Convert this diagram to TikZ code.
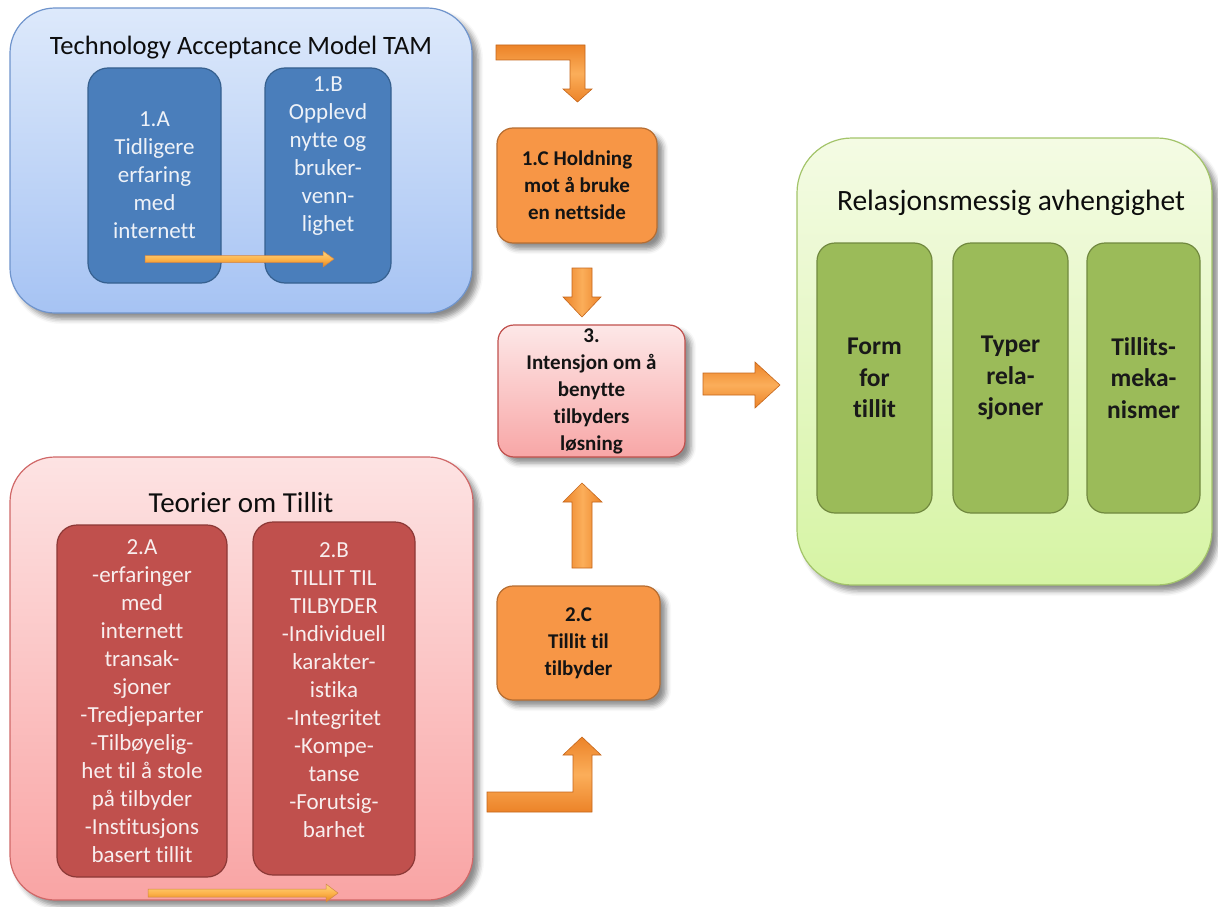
\documentclass[tikz,border=0pt]{standalone}
\usepackage{fontspec}
\setmainfont{Carlito}[Ligatures={NoCommon}]
\usetikzlibrary{shadows.blur}

% palette
\definecolor{tamTop}{HTML}{DDE9FB}
\definecolor{tamBot}{HTML}{A6C3F3}
\definecolor{tamEdge}{HTML}{6F94CC}
\definecolor{blueFill}{HTML}{4A7EBB}
\definecolor{blueEdge}{HTML}{36608F}
\definecolor{blueText}{HTML}{EEF2F8}
\definecolor{teoTop}{HTML}{FDE3E3}
\definecolor{teoBot}{HTML}{F9A4A4}
\definecolor{teoEdge}{HTML}{D06868}
\definecolor{redFill}{HTML}{C0504D}
\definecolor{redEdge}{HTML}{8C3836}
\definecolor{redText}{HTML}{F8EEEE}
\definecolor{orFill}{HTML}{F79646}
\definecolor{orEdge}{HTML}{B66D31}
\definecolor{intTop}{HTML}{FDE8E8}
\definecolor{intBot}{HTML}{F8A6A6}
\definecolor{intEdge}{HTML}{C0504D}
\definecolor{relTop}{HTML}{F4FBE4}
\definecolor{relBot}{HTML}{D6F4A4}
\definecolor{relEdge}{HTML}{A3C46A}
\definecolor{greenFill}{HTML}{9BBB59}
\definecolor{greenEdge}{HTML}{71893F}
\definecolor{arDark}{HTML}{EC8328}
\definecolor{arLight}{HTML}{FBAE5A}
\definecolor{arEdge}{HTML}{C4661C}
\definecolor{thinTop}{HTML}{FCD67E}
\definecolor{thinBot}{HTML}{E3861A}

\begin{document}
\begin{tikzpicture}[x=1pt,y=-1pt,
  every node/.style={inner sep=0pt, outer sep=0pt},
  softshadow/.style={blur shadow={shadow xshift=6pt, shadow yshift=-6pt,
      shadow blur radius=5pt, shadow opacity=45}},
  outerbox/.style={rectangle, rounded corners=45pt, line width=1.2pt, softshadow},
  innerbox/.style={rectangle, rounded corners=20pt, line width=1.2pt, align=center},
  smallbox/.style={rectangle, rounded corners=16pt, line width=1.2pt, align=center,
      fill=orFill, draw=orEdge, softshadow},
  title/.style={anchor=base, text=black!95},
  bluetext/.style={align=center, text=blueText, font=\fontsize{23}{28}\selectfont},
  redtext/.style={align=center, text=redText, font=\fontsize{23}{28}\selectfont},
  darktext/.style={text=black!92, font=\bfseries\fontsize{21}{27}\selectfont},
  greentext/.style={text=black!90, font=\bfseries\fontsize{25.5}{31.5}\selectfont},
  vblock/.style={draw=arEdge, line width=0.6pt, left color=arDark, right color=arDark, middle color=arLight},
  hblock/.style={draw=arEdge, line width=0.6pt, top color=arDark, bottom color=arDark, middle color=arLight},
  thinarrow/.style={draw=arEdge!80, line width=0.5pt, top color=thinTop, bottom color=thinBot, middle color=thinTop!60!orange}
]
\useasboundingbox (0,0) rectangle (1218,907);

% ---------- Technology Acceptance Model ----------
\node[outerbox, top color=tamTop, bottom color=tamBot, draw=tamEdge,
      minimum width=462pt, minimum height=305pt] (tam) at (241,160.5) {};
\node[title, font=\fontsize{26.5}{30}\selectfont] (tamtitle) at (241,55) {Technology Acceptance Model TAM};
\node[innerbox, fill=blueFill, draw=blueEdge, minimum width=133pt, minimum height=215pt,
      bluetext] (a1) at (154.5,175.5) {1.A\\Tidligere\\erfaring\\med\\internett};
\node[innerbox, fill=blueFill, draw=blueEdge, minimum width=126pt, minimum height=215pt] (b1) at (328,175.5) {};
\node[bluetext] (b1t) at (328,156.5) {1.B\\Opplevd\\nytte og\\bruker-\\venn-\\lighet};

% ---------- Teorier om Tillit ----------
\node[outerbox, top color=teoTop, bottom color=teoBot, draw=teoEdge,
      minimum width=463pt, minimum height=443pt] (teo) at (241.5,678.5) {};
\node[title, font=\fontsize{29}{33}\selectfont] (teotitle) at (241,512) {Teorier om Tillit};
\node[innerbox, fill=redFill, draw=redEdge, minimum width=170pt, minimum height=352pt,
      redtext] (a2) at (142,701)
  {2.A\\-erfaringer\\med\\internett\\transak-\\sjoner\\-Tredjeparter\\-Tilbøyelig-\\het til å stole\\på tilbyder\\-Institusjons\\basert tillit};
\node[innerbox, fill=redFill, draw=redEdge, minimum width=162pt, minimum height=353pt] (b2) at (334,698.5) {};
\node[redtext] (b2t) at (334,690)
  {2.B\\TILLIT TIL\\TILBYDER\\-Individuell\\karakter-\\istika\\-Integritet\\-Kompe-\\tanse\\-Forutsig-\\barhet};

% ---------- middle column ----------
\node[smallbox, darktext, minimum width=160pt, minimum height=115pt] (c1) at (577,185.5)
  {1.C Holdning\\mot å bruke\\en nettside};
\node[smallbox, darktext, top color=intTop, bottom color=intBot, draw=intEdge,
      minimum width=187pt, minimum height=132pt] (int) at (591.5,391)
  {3.\\Intensjon om å\\benytte\\tilbyders\\løsning};
\node[smallbox, darktext, minimum width=163pt, minimum height=114pt] (c2) at (578.5,643)
  {2.C\\Tillit til\\tilbyder};

% ---------- Relasjonsmessig avhengighet ----------
\node[outerbox, rounded corners=55pt, top color=relTop, bottom color=relBot, draw=relEdge,
      minimum width=415pt, minimum height=447pt] (rel) at (1004.5,361.5) {};
\node[title, font=\fontsize{29.5}{33}\selectfont] (reltitle) at (1011,210) {Relasjonsmessig avhengighet};
\node[innerbox, rounded corners=18pt, fill=greenFill, draw=greenEdge, minimum width=115pt,
      minimum height=270pt, greentext] (g1) at (874.5,378) {Form\\for\\tillit};
\node[innerbox, rounded corners=18pt, fill=greenFill, draw=greenEdge, minimum width=115pt,
      minimum height=270pt, greentext] (g2) at (1010.5,378) {Typer\\rela-\\sjoner};
\node[innerbox, rounded corners=18pt, fill=greenFill, draw=greenEdge, minimum width=113pt,
      minimum height=270pt, greentext] (g3) at (1143.5,378) {Tillits-\\meka-\\nismer};

% ---------- block arrows ----------
% TAM -> 1.C (elbow)
\path[hblock] (496,45) -- (585,45) -- (585,89) -- (592,89) -- (577.5,102) -- (563,89)
  -- (570,89) -- (570,60) -- (496,60) -- cycle;
% 1.C -> 3
\path[vblock] (572,268) -- (592,268) -- (592,297) -- (601,297) -- (582,317) -- (563,297)
  -- (572,297) -- cycle;
% 3 -> Relasjonsmessig avhengighet
\path[hblock] (703,373) -- (755,373) -- (755,362) -- (780,385) -- (755,408) -- (755,395)
  -- (703,395) -- cycle;
% 2.C -> 3
\path[vblock] (572,568) -- (572,502) -- (563,502) -- (582,483) -- (602,502) -- (592,502)
  -- (592,568) -- cycle;
% Teorier -> 2.C (elbow)
\path[hblock] (487,792) -- (573,792) -- (573,755) -- (563,755) -- (582,737) -- (601,755)
  -- (592,755) -- (592,812) -- (487,812) -- cycle;

% thin arrows 1.A -> 1.B and 2.A -> 2.B
\path[thinarrow] (145,255.5) -- (323,255.5) -- (323,251) -- (334,259) -- (323,267)
  -- (323,262.5) -- (145,262.5) -- cycle;
\path[thinarrow] (148,889) -- (326,889) -- (326,884) -- (338,893) -- (326,902)
  -- (326,897) -- (148,897) -- cycle;
\end{tikzpicture}
\end{document}
